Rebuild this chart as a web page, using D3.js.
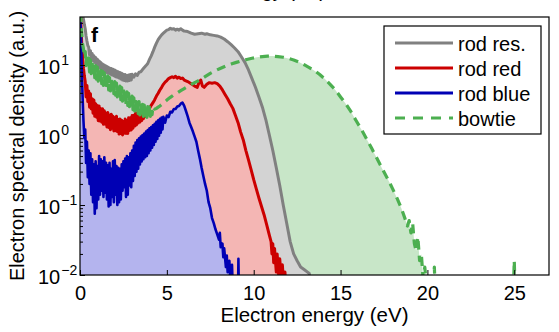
<!DOCTYPE html>
<html>
<head>
<meta charset="utf-8">
<script src="https://cdn.jsdelivr.net/npm/d3@7"></script>
<style>
  html, body { margin: 0; padding: 0; background: #fff; }
  svg { display: block; font-family: "Liberation Sans", Arial, sans-serif; }
</style>
</head>
<body>
<svg id="chart" width="559" height="332"></svg>
<script>
// Electron spectra, [energy (eV), spectral density (a.u.)]
const rodRes = [
  [0.00, 90], [0.10, 60], [0.20, 45], [0.25, 38], [0.30, 33], [0.35, 26], [0.40, 22], [0.45, 19],
  [0.50, 18], [0.55, 14], [0.60, 16], [0.65, 12.5], [0.70, 14.6], [0.75, 11.6], [0.80, 13.6],
  [0.85, 10.9], [0.90, 12.8], [0.95, 10.2], [1.00, 12.1], [1.05, 9.6], [1.10, 11.4], [1.15, 9.1],
  [1.20, 10.9], [1.25, 8.7], [1.30, 10.3], [1.35, 8.3], [1.40, 10.0], [1.45, 8.1], [1.50, 9.7],
  [1.55, 7.8], [1.60, 9.4], [1.65, 7.6], [1.70, 9.1], [1.75, 7.4], [1.80, 8.9], [1.85, 7.2],
  [1.90, 8.7], [1.95, 7.0], [2.00, 8.5], [2.05, 6.8], [2.10, 8.2], [2.15, 6.7], [2.20, 8.0],
  [2.25, 6.5], [2.30, 7.8], [2.35, 6.3], [2.40, 7.6], [2.45, 6.1], [2.50, 7.4], [2.55, 6.0],
  [2.60, 7.3], [2.65, 5.9], [2.70, 7.1], [2.75, 5.9], [2.80, 7.2], [2.85, 6.0], [2.90, 7.3],
  [2.95, 6.1], [3.00, 7.4], [3.10, 6.7], [3.20, 7.5], [3.30, 7.1], [3.40, 7.9], [3.50, 8.0],
  [3.60, 8.6], [3.70, 9.2], [3.80, 9.8], [3.90, 10.5], [4.00, 12], [4.10, 13.5], [4.20, 15.5],
  [4.30, 18], [4.40, 20.5], [4.50, 23], [4.60, 25], [4.70, 27], [4.80, 28.5], [4.90, 30],
  [5.00, 31.5], [5.10, 32], [5.20, 33.5], [5.30, 32.5], [5.40, 33], [5.50, 31.5], [5.60, 32.5],
  [5.70, 31.5], [5.80, 33], [5.90, 31.5], [6.00, 30.5], [6.20, 30], [6.40, 28.5], [6.60, 27.5],
  [6.80, 28], [7.00, 28.5], [7.20, 27.5], [7.30, 28], [7.50, 27], [7.70, 26.5], [7.90, 26],
  [8.10, 25], [8.30, 23.5], [8.50, 21.5], [8.70, 19.5], [8.90, 17.5], [9.10, 15.5], [9.30, 13],
  [9.50, 10.8], [9.70, 8.5], [9.90, 6.4], [10.10, 4.8], [10.30, 3.5], [10.50, 2.5], [10.70, 1.65],
  [10.90, 1.0], [11.10, 0.6], [11.30, 0.34], [11.50, 0.19], [11.70, 0.1], [11.90, 0.055],
  [12.10, 0.03], [12.30, 0.02], [12.50, 0.016], [12.70, 0.013], [12.90, 0.012], [13.10, 0.011],
  [13.20, 0.0105], [13.30, 0.007], [13.50, 0.004], [27.0, 0.003]
];

const rodRed = [
  [0.00, 90], [0.05, 40], [0.10, 20], [0.15, 13], [0.20, 9], [0.25, 7.0], [0.30, 5.8], [0.35, 3.5],
  [0.40, 5.1], [0.45, 3.0], [0.50, 4.25], [0.55, 2.5], [0.60, 3.9], [0.65, 2.35], [0.70, 3.3],
  [0.75, 2.05], [0.80, 3.15], [0.85, 1.85], [0.90, 2.8], [0.95, 1.8], [1.00, 2.65], [1.05, 1.6],
  [1.10, 2.6], [1.15, 1.58], [1.20, 2.38], [1.25, 1.52], [1.30, 2.37], [1.35, 1.42], [1.40, 2.22],
  [1.45, 1.43], [1.50, 2.04], [1.55, 1.3], [1.60, 2.1], [1.65, 1.28], [1.70, 1.92], [1.75, 1.19],
  [1.80, 1.98], [1.85, 1.25], [1.90, 1.85], [1.95, 1.14], [2.00, 1.77], [2.05, 1.15], [2.10, 1.85],
  [2.15, 1.12], [2.20, 1.66], [2.25, 1.03], [2.30, 1.69], [2.35, 1.05], [2.40, 1.63], [2.45, 1.0],
  [2.50, 1.56], [2.55, 1.06], [2.60, 1.69], [2.65, 1.05], [2.70, 1.6], [2.75, 1.05], [2.80, 1.77],
  [2.85, 1.16], [2.90, 1.76], [2.95, 1.18], [3.00, 1.9], [3.05, 1.25], [3.10, 1.92], [3.15, 1.34],
  [3.20, 2.05], [3.25, 1.39], [3.30, 2.08], [3.35, 1.48], [3.40, 2.1], [3.45, 1.53], [3.50, 2.12],
  [3.55, 1.61], [3.60, 2.19], [3.65, 1.71], [3.70, 2.22], [3.75, 1.83], [3.80, 2.29], [3.90, 2.2],
  [4.00, 2.4], [4.10, 2.65], [4.20, 2.9], [4.30, 3.2], [4.40, 3.6], [4.50, 3.95], [4.60, 4.4],
  [4.70, 4.8], [4.80, 5.3], [4.90, 5.7], [5.00, 6.0], [5.10, 6.4], [5.20, 6.6], [5.30, 6.8],
  [5.40, 6.6], [5.50, 6.9], [5.60, 6.5], [5.70, 6.7], [5.80, 6.4], [5.90, 6.5], [6.00, 6.1],
  [6.20, 5.8], [6.40, 5.4], [6.60, 5.0], [6.75, 4.8], [6.85, 5.6], [6.95, 6.1], [7.05, 5.0],
  [7.15, 4.8], [7.30, 5.3], [7.45, 5.6], [7.60, 5.5], [7.75, 5.6], [7.90, 5.4], [8.05, 5.0],
  [8.20, 4.4], [8.35, 3.8], [8.50, 3.3], [8.65, 2.8], [8.80, 2.4], [8.95, 1.9], [9.10, 1.5],
  [9.25, 1.1], [9.40, 0.85], [9.55, 0.6], [9.70, 0.44], [9.85, 0.32], [10.00, 0.23], [10.15, 0.17],
  [10.30, 0.126], [10.45, 0.095], [10.60, 0.072], [10.75, 0.052], [10.90, 0.037], [11.00, 0.03],
  [11.05, 0.02], [11.10, 0.028], [11.15, 0.015], [11.20, 0.024], [11.30, 0.011], [11.35, 0.02],
  [11.45, 0.009], [11.50, 0.017], [11.60, 0.008], [11.65, 0.014], [11.75, 0.006], [11.80, 0.011],
  [11.90, 0.004], [27.0, 0.003]
];

const rodBlue = [
  [0.00, 60], [0.05, 30], [0.10, 9], [0.15, 3.5], [0.20, 1.6], [0.25, 0.9], [0.30, 1.2], [0.35, 0.4],
  [0.40, 0.8], [0.45, 0.25], [0.50, 0.6], [0.55, 0.2], [0.60, 0.55], [0.65, 0.14], [0.70, 0.45],
  [0.75, 0.11], [0.80, 0.38], [0.85, 0.075], [0.90, 0.42], [0.95, 0.09], [1.00, 0.36], [1.05, 0.12],
  [1.10, 0.5], [1.15, 0.14], [1.20, 0.45], [1.25, 0.16], [1.30, 0.42], [1.35, 0.13], [1.40, 0.48],
  [1.45, 0.15], [1.50, 0.4], [1.55, 0.12], [1.60, 0.37], [1.65, 0.095], [1.70, 0.4], [1.75, 0.1],
  [1.80, 0.33], [1.85, 0.13], [1.90, 0.42], [1.95, 0.11], [2.00, 0.44], [2.05, 0.14], [2.10, 0.36],
  [2.15, 0.1], [2.20, 0.34], [2.25, 0.11], [2.30, 0.33], [2.35, 0.12], [2.40, 0.38], [2.45, 0.16],
  [2.50, 0.42], [2.55, 0.18], [2.60, 0.46], [2.65, 0.13], [2.70, 0.5], [2.75, 0.14], [2.80, 0.48],
  [2.85, 0.19], [2.90, 0.55], [2.95, 0.18], [3.00, 0.6], [3.05, 0.22], [3.10, 0.7], [3.15, 0.26],
  [3.20, 0.78], [3.25, 0.3], [3.30, 0.85], [3.35, 0.33], [3.40, 0.9], [3.45, 0.38], [3.50, 0.95],
  [3.55, 0.42], [3.60, 1.0], [3.65, 0.45], [3.70, 1.05], [3.75, 0.48], [3.80, 1.12], [3.85, 0.5],
  [3.90, 1.18], [3.95, 0.55], [4.00, 1.25], [4.05, 0.6], [4.10, 1.3], [4.15, 0.66], [4.20, 1.38],
  [4.25, 0.72], [4.30, 1.45], [4.35, 0.8], [4.40, 1.55], [4.45, 0.88], [4.50, 1.62], [4.55, 0.98],
  [4.60, 1.7], [4.65, 1.08], [4.70, 1.78], [4.75, 1.2], [4.80, 1.82], [4.90, 1.5], [5.00, 1.9],
  [5.10, 1.8], [5.20, 2.15], [5.30, 2.1], [5.40, 2.35], [5.50, 2.35], [5.60, 2.55], [5.70, 2.6],
  [5.80, 2.8], [5.90, 2.9], [6.00, 2.6], [6.10, 2.2], [6.20, 1.85], [6.30, 1.5], [6.40, 1.3],
  [6.50, 1.12], [6.60, 0.95], [6.70, 0.8], [6.80, 0.6], [6.90, 0.46], [7.00, 0.34], [7.10, 0.26],
  [7.20, 0.2], [7.30, 0.16], [7.40, 0.11], [7.50, 0.09], [7.60, 0.065], [7.70, 0.055], [7.80, 0.045],
  [7.90, 0.038], [8.00, 0.032], [8.05, 0.04], [8.10, 0.025], [8.20, 0.028], [8.25, 0.018],
  [8.30, 0.024], [8.40, 0.013], [8.45, 0.019], [8.50, 0.011], [8.60, 0.016], [8.65, 0.008],
  [8.75, 0.014], [8.80, 0.006], [9.10, 0.006], [9.12, 0.017], [9.15, 0.005], [27.0, 0.003]
];

const bowtie = [
  [0.00, 90], [0.05, 45], [0.10, 28], [0.15, 20], [0.20, 17], [0.25, 13.5], [0.30, 15.5], [0.35, 9.8],
  [0.40, 14.2], [0.45, 8.8], [0.50, 12.6], [0.55, 8.0], [0.60, 11.8], [0.65, 7.5], [0.70, 11.0],
  [0.75, 7.0], [0.80, 10.4], [0.85, 6.6], [0.90, 9.8], [0.95, 6.3], [1.00, 9.3], [1.05, 5.9],
  [1.10, 8.8], [1.15, 5.6], [1.20, 8.4], [1.25, 5.4], [1.30, 8.1], [1.35, 5.1], [1.40, 7.7],
  [1.45, 4.9], [1.50, 7.3], [1.55, 4.7], [1.60, 7.0], [1.65, 4.4], [1.70, 6.6], [1.75, 4.25],
  [1.80, 6.3], [1.85, 4.05], [1.90, 6.1], [1.95, 3.9], [2.00, 5.8], [2.05, 3.7], [2.10, 5.5],
  [2.15, 3.5], [2.20, 5.25], [2.25, 3.35], [2.30, 5.0], [2.35, 3.2], [2.40, 4.75], [2.45, 3.05],
  [2.50, 4.5], [2.55, 2.9], [2.60, 4.35], [2.65, 2.78], [2.70, 4.15], [2.75, 2.65], [2.80, 3.95],
  [2.85, 2.55], [2.90, 3.8], [2.95, 2.42], [3.00, 3.6], [3.05, 2.3], [3.10, 3.4], [3.15, 2.2],
  [3.20, 3.25], [3.25, 2.1], [3.30, 3.1], [3.35, 2.02], [3.40, 3.0], [3.45, 1.94], [3.50, 2.85],
  [3.55, 1.88], [3.60, 2.75], [3.65, 1.84], [3.70, 2.68], [3.75, 1.8], [3.80, 2.6], [3.85, 1.78],
  [3.90, 2.55], [3.95, 1.8], [4.00, 2.5], [4.05, 1.85], [4.10, 2.5], [4.15, 1.95], [4.20, 2.55],
  [4.30, 2.35], [4.40, 2.4], [4.50, 2.5], [4.60, 2.6], [4.80, 2.85], [5.00, 3.15], [5.20, 3.45],
  [5.40, 3.75], [5.60, 4.0], [5.80, 4.3], [6.00, 4.6], [6.30, 5.1], [6.60, 5.6], [6.90, 6.1],
  [7.20, 6.8], [7.50, 7.6], [7.80, 8.3], [8.10, 9.0], [8.40, 9.7], [8.70, 10.3], [9.00, 10.9],
  [9.30, 11.5], [9.60, 12.0], [9.90, 12.5], [10.20, 12.9], [10.50, 13.2], [10.80, 13.4],
  [11.10, 13.4], [11.40, 13.2], [11.70, 12.9], [12.00, 12.4], [12.30, 11.8], [12.60, 11.0],
  [12.90, 10.1], [13.20, 9.2], [13.50, 8.3], [13.80, 7.3], [14.10, 6.3], [14.40, 5.3], [14.70, 4.4],
  [15.00, 3.5], [15.30, 2.8], [15.60, 2.15], [15.90, 1.6], [16.20, 1.2], [16.50, 0.88],
  [16.80, 0.64], [17.10, 0.46], [17.40, 0.33], [17.70, 0.24], [18.00, 0.17], [18.25, 0.125],
  [18.50, 0.09], [18.70, 0.065], [18.85, 0.05], [18.95, 0.06], [19.05, 0.04], [19.15, 0.055],
  [19.25, 0.028], [19.35, 0.022], [19.45, 0.035], [19.55, 0.016], [19.65, 0.02], [19.75, 0.009],
  [19.85, 0.013], [19.95, 0.007], [20.35, 0.007], [20.40, 0.013], [20.45, 0.006], [24.95, 0.006],
  [25.00, 0.016], [25.05, 0.006], [27.0, 0.005]
];

const seriesNames = ["rod res.", "rod red", "rod blue", "bowtie"];
const xTickValues = [0, 5, 10, 15, 20, 25];
const yTickExponents = [-2, -1, 0, 1];

// Layout and styling
const margin = { left: 80, right: 549, top: 17, bottom: 275 };
const styles = {
  "rod res.": { line: "#808080", fill: "#d3d3d3", width: 3, dash: null },
  "rod red":  { line: "#cc0000", fill: "#f4b6b4", width: 3, dash: null },
  "rod blue": { line: "#0000b4", fill: "#b4b4ee", width: 2.6, dash: null },
  "bowtie":   { line: "#4caf50", fill: "#c8e6c8", width: 3.2, dash: "9,6" }
};
const seriesData = { "rod res.": rodRes, "rod red": rodRed, "rod blue": rodBlue, "bowtie": bowtie };

const svg = d3.select("#chart");
const x = d3.scaleLinear().domain([0, 27]).range([margin.left, margin.right]);
const y = d3.scaleLog().domain([0.01, 48.5]).range([margin.bottom, margin.top]);

svg.append("defs").append("clipPath").attr("id", "plot-clip")
  .append("rect")
  .attr("x", margin.left).attr("y", margin.top)
  .attr("width", margin.right - margin.left).attr("height", margin.bottom - margin.top);

const plot = svg.append("g").attr("clip-path", "url(#plot-clip)");

const area = d3.area()
  .x(d => x(d[0]))
  .y0(margin.bottom + 60)
  .y1(d => y(d[1]));
const line = d3.line()
  .x(d => x(d[0]))
  .y(d => y(d[1]));

// Filled areas, back to front
["bowtie", "rod res.", "rod red", "rod blue"].forEach(name => {
  plot.append("path")
    .datum(seriesData[name])
    .attr("d", area)
    .attr("fill", styles[name].fill);
});

// Spectrum outlines
["rod res.", "rod red", "rod blue", "bowtie"].forEach(name => {
  const s = styles[name];
  plot.append("path")
    .datum(seriesData[name])
    .attr("d", line)
    .attr("fill", "none")
    .attr("stroke", s.line)
    .attr("stroke-width", s.width)
    .attr("stroke-linejoin", "round")
    .attr("stroke-dasharray", s.dash);
});

// Axes
const axisColor = "#000";
const xAxis = svg.append("g")
  .attr("transform", `translate(0,${margin.bottom})`)
  .call(d3.axisBottom(x).tickValues(xTickValues).tickSizeInner(-5).tickSizeOuter(0).tickPadding(11));
xAxis.select(".domain").remove();
xAxis.selectAll("line").attr("stroke", axisColor);
xAxis.selectAll("text").attr("font-size", 20).attr("font-family", "Liberation Sans, Arial, sans-serif").attr("fill", "#000");

const minorTicks = [];
yTickExponents.forEach(e => {
  for (let m = 2; m <= 9; m++) {
    const v = m * Math.pow(10, e);
    if (v < 48.5) minorTicks.push(v);
  }
});
const yMinor = svg.append("g")
  .attr("transform", `translate(${margin.left},0)`)
  .call(d3.axisLeft(y).tickValues(minorTicks).tickSizeInner(-3).tickSizeOuter(0).tickFormat(""));
yMinor.select(".domain").remove();

const yMajor = svg.append("g")
  .attr("transform", `translate(${margin.left},0)`)
  .call(d3.axisLeft(y).tickValues(yTickExponents.map(e => Math.pow(10, e))).tickSizeInner(-5).tickSizeOuter(0).tickFormat(""));
yMajor.select(".domain").remove();

// Power-of-ten tick labels
yTickExponents.forEach(e => {
  const t = svg.append("text")
    .attr("x", 38)
    .attr("y", y(Math.pow(10, e)) + 8.5)
    .attr("font-size", 20)
    .attr("fill", "#000");
  t.append("tspan").text("10");
  t.append("tspan")
    .attr("font-size", 14)
    .attr("dy", -8.5)
    .attr("dx", 1)
    .text(e < 0 ? "\u2212" + Math.abs(e) : String(e));
});

// Plot frame
svg.append("rect")
  .attr("x", margin.left).attr("y", margin.top)
  .attr("width", margin.right - margin.left).attr("height", margin.bottom - margin.top)
  .attr("fill", "none").attr("stroke", "#000").attr("stroke-width", 1.2);

// Axis titles
svg.append("text")
  .attr("x", (margin.left + margin.right) / 2)
  .attr("y", 322)
  .attr("text-anchor", "middle")
  .attr("font-size", 20.5)
  .text("Electron energy (eV)");

svg.append("text")
  .attr("transform", `translate(24,${(margin.top + margin.bottom) / 2}) rotate(-90)`)
  .attr("text-anchor", "middle")
  .attr("font-size", 20)
  .text("Electron spectral density (a.u.)");

// Axis title of the panel above, only its lowest strokes fall inside the figure
svg.append("text")
  .attr("x", 326)
  .attr("y", -3)
  .attr("text-anchor", "end")
  .attr("font-size", 20)
  .text("Electron energy (eV)");

// Panel letter
svg.append("text")
  .attr("x", 91).attr("y", 42)
  .attr("font-size", 21).attr("font-weight", "bold")
  .text("f");

// Legend
const legend = svg.append("g");
legend.append("rect")
  .attr("x", 384).attr("y", 26).attr("width", 157).attr("height", 108)
  .attr("fill", "#fff").attr("stroke", "#000").attr("stroke-width", 1.2);
seriesNames.forEach((name, i) => {
  const s = styles[name];
  const ly = 43 + i * 25;
  legend.append("line")
    .attr("x1", 395).attr("x2", 453).attr("y1", ly).attr("y2", ly)
    .attr("stroke", s.line).attr("stroke-width", 3.2)
    .attr("stroke-dasharray", s.dash ? "10,8" : null);
  legend.append("text")
    .attr("x", 458).attr("y", ly + 7.5)
    .attr("font-size", 20)
    .text(name);
});
</script>
</body>
</html>
